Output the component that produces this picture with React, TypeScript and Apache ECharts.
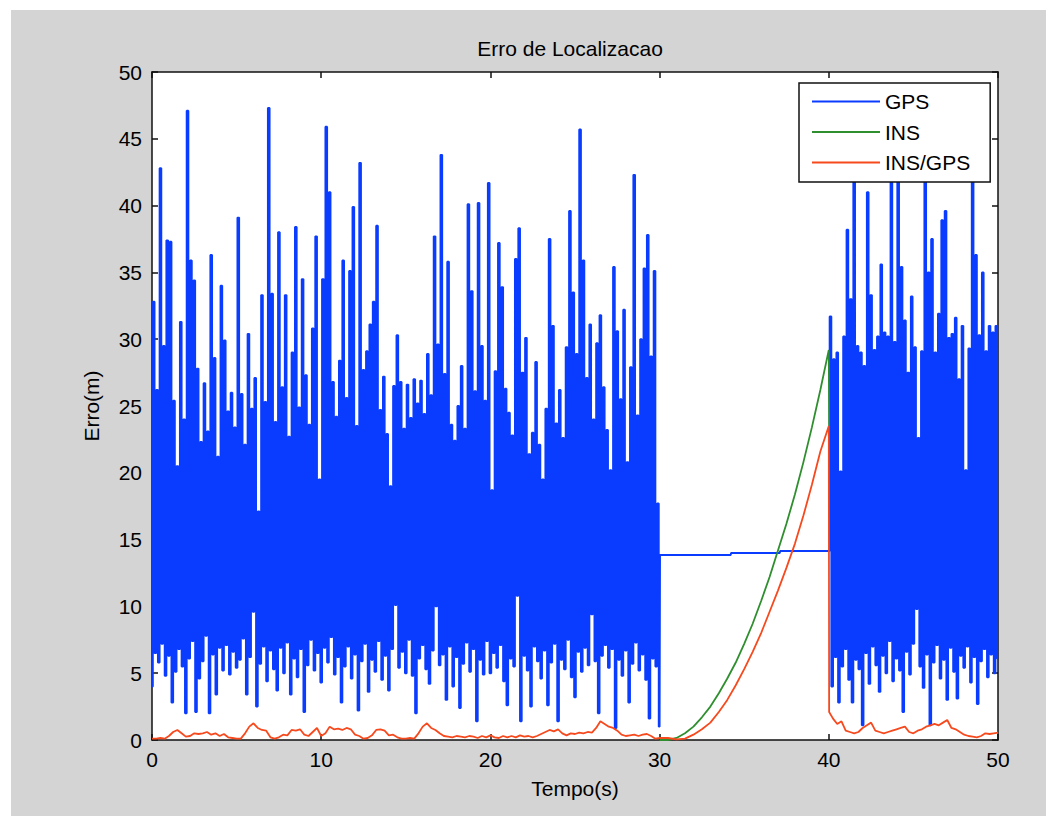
import { useEffect, useRef } from "react";
import * as echarts from "echarts";

// GPS error (m), sampled at 10 Hz from t = 0.0 s to t = 30.0 s (one row per second)
const gpsBefore = [
  4.0, 32.8, 6.5, 26.2, 5.8, 42.8, 7.2, 29.5, 4.8, 37.4,
  6.3, 37.3, 2.8, 25.4, 5.1, 20.5, 6.8, 31.3, 5.5, 24.0,
  2.0, 47.1, 6.1, 35.9, 7.4, 34.4, 2.1, 27.8, 4.6, 22.3,
  5.9, 26.7, 7.8, 23.1, 2.0, 36.3, 6.4, 28.6, 3.4, 21.2,
  6.9, 34.0, 5.2, 29.9, 7.1, 24.6, 4.9, 26.0, 6.6, 23.4,
  5.4, 39.1, 6.0, 25.9, 7.6, 22.1, 3.4, 30.4, 6.2, 24.8,
  9.6, 27.1, 2.5, 17.1, 5.7, 33.3, 7.0, 25.3, 4.4, 47.3,
  6.7, 33.4, 5.3, 23.8, 3.7, 38.0, 6.9, 26.4, 5.0, 33.3,
  7.3, 22.7, 3.4, 29.0, 6.1, 38.4, 4.7, 24.9, 6.8, 34.5,
  2.1, 27.3, 5.6, 23.6, 7.5, 30.8, 5.2, 37.7, 6.5, 19.5,
  4.3, 34.5, 6.9, 45.9, 5.8, 41.0, 7.7, 26.8, 4.9, 24.2,
  6.2, 28.4, 2.8, 35.9, 5.5, 25.6, 7.0, 35.1, 4.6, 39.9,
  6.4, 23.5, 2.2, 43.2, 5.9, 27.7, 7.2, 29.1, 3.6, 31.1,
  6.0, 32.8, 5.1, 38.5, 7.4, 24.7, 4.5, 27.2, 6.3, 22.9,
  3.7, 19.0, 6.8, 26.5, 10.1, 30.3, 5.4, 26.8, 6.6, 23.3,
  5.0, 26.6, 7.5, 24.1, 4.8, 27.0, 2.0, 25.2, 6.1, 26.9,
  7.1, 24.4, 5.3, 28.9, 4.2, 25.8, 6.7, 37.7, 10.0, 29.6,
  5.6, 43.8, 6.4, 27.4, 3.0, 35.8, 7.0, 23.6, 4.0, 22.4,
  6.2, 25.0, 2.4, 28.0, 5.7, 23.3, 7.3, 40.1, 5.1, 33.6,
  6.8, 26.1, 1.4, 40.2, 6.0, 29.5, 4.9, 25.4, 7.4, 41.7,
  5.0, 18.7, 6.5, 27.6, 5.4, 37.2, 7.1, 33.9, 4.4, 26.3,
  2.6, 24.5, 6.1, 22.8, 5.5, 36.0, 10.8, 38.3, 1.4, 27.5,
  6.3, 30.1, 5.2, 21.4, 2.5, 23.0, 7.0, 28.3, 5.9, 22.1,
  4.6, 19.5, 6.7, 24.8, 2.6, 37.5, 5.8, 31.0, 7.2, 23.7,
  1.4, 26.2, 6.0, 22.6, 5.3, 29.4, 7.5, 39.6, 4.7, 33.5,
  3.2, 28.9, 6.6, 45.7, 5.1, 35.9, 6.9, 27.1, 5.6, 31.1,
  9.4, 24.0, 5.9, 29.7, 2.0, 31.8, 6.3, 26.4, 7.1, 23.2,
  5.4, 20.2, 6.8, 35.4, 0.9, 30.6, 6.0, 25.5, 4.8, 32.2,
  6.7, 20.8, 2.8, 27.9, 5.7, 42.3, 7.3, 24.3, 5.2, 30.0,
  6.4, 35.3, 4.5, 37.8, 1.6, 28.7, 6.1, 35.1, 5.5, 17.7,
  1.0,
];

// GPS output held during the outage (30 s - 40 s)
const gpsHoldTimes = [30.05, 34.2, 34.25, 37.1, 37.15, 39.95];
const gpsHoldValues = [13.85, 13.85, 14.0, 14.0, 14.15, 14.15];

// GPS error (m), 10 Hz from t = 40.0 s to t = 50.0 s
const gpsAfter = [
  14.15, 31.7, 4.0, 28.5, 6.2, 29.0, 2.8, 20.1, 5.5, 30.2,
  6.8, 38.2, 4.5, 33.0, 2.8, 45.0, 6.0, 29.5, 5.3, 29.0,
  1.1, 28.0, 6.5, 41.0, 4.2, 33.3, 7.0, 29.2, 5.6, 30.2,
  3.6, 35.6, 6.3, 30.5, 5.0, 30.2, 7.4, 46.0, 4.4, 29.8,
  6.1, 44.5, 5.2, 35.4, 2.1, 31.4, 6.6, 27.5, 4.9, 33.2,
  7.2, 29.4, 9.8, 22.6, 5.5, 29.1, 3.9, 44.8, 6.4, 35.0,
  1.1, 37.5, 5.8, 29.0, 7.1, 31.9, 4.6, 38.9, 6.0, 39.6,
  3.0, 30.1, 6.9, 30.4, 5.1, 31.6, 3.1, 27.0, 6.3, 31.0,
  5.4, 20.2, 7.0, 29.3, 4.3, 45.5, 6.2, 36.3, 2.7, 30.3,
  5.9, 35.0, 6.8, 29.1, 4.7, 31.0, 6.4, 30.5, 5.0, 31.0,
  6.1,
];

// INS error (m) during the outage, every 0.5 s from 30 s to 40 s
const insOutage = [
  0, 0, 0.15, 0.5, 1.0, 1.7, 2.5, 3.5, 4.6, 5.8, 7.2,
  8.7, 10.4, 12.2, 14.2, 16.2, 18.4, 20.8, 23.4, 26.2, 29.2,
];
const insResetValue = 23.5;

// INS/GPS error (m), every 0.25 s from 0 s to 30 s
const insGpsBefore = [
  0.1, 0.1, 0.15, 0.1, 0.3, 0.6, 0.75, 0.5, 0.25, 0.3, 0.5, 0.45,
  0.5, 0.6, 0.4, 0.5, 0.3, 0.45, 0.2, 0.15, 0.1, 0.1, 0.5, 1.0,
  1.25, 0.9, 0.75, 0.7, 0.2, 0.1, 0.2, 0.4, 0.35, 0.75, 0.7, 0.8,
  0.4, 0.3, 0.6, 0.9, 0.3, 0.5, 1.0, 0.8, 0.85, 0.75, 0.9, 0.8,
  0.4, 0.3, 0.1, 0.15, 0.35, 0.75, 0.8, 0.7, 0.35, 0.4, 0.2, 0.1,
  0.1, 0.15, 0.1, 0.5, 1.0, 1.25, 0.9, 0.75, 0.5, 0.3, 0.25, 0.2,
  0.3, 0.25, 0.2, 0.3, 0.25, 0.15, 0.3, 0.2, 0.35, 0.2, 0.15, 0.3,
  0.2, 0.3, 0.2, 0.35, 0.25, 0.3, 0.2, 0.3, 0.45, 0.6, 0.75, 0.65,
  0.8, 0.5, 0.35, 0.5, 0.45, 0.55, 0.5, 0.6, 0.55, 0.9, 1.4, 1.2,
  1.0, 0.9, 0.7, 0.4, 0.3, 0.35, 0.4, 0.3, 0.4, 0.45, 0.3, 0.1,
  0.15,
];

// INS/GPS error (m) during the outage, every 0.5 s from 30.5 s to 40 s
const insGpsOutage = [
  0.15, 0.05, 0.1, 0.4, 0.8, 1.3, 2.1, 3.0, 4.1, 5.3,
  6.6, 8.0, 9.6, 11.2, 12.9, 14.7, 16.8, 19.1, 21.6, 23.5,
];
const insGpsResetValue = 2.1;

// INS/GPS error (m) after GPS returns, every 0.25 s from 40.25 s to 50 s
const insGpsAfter = [
  1.6, 1.2, 1.4, 0.7, 0.6, 0.5, 0.6, 0.9, 1.1, 1.3,
  0.7, 0.6, 0.5, 0.6, 0.7, 0.8, 0.9, 1.0, 0.6, 0.5,
  0.7, 0.8, 1.0, 1.1, 1.2, 1.1, 1.3, 1.5, 0.9, 0.8,
  0.6, 0.4, 0.3, 0.25, 0.2, 0.3, 0.5, 0.45, 0.5, 0.55,
];

const seriesNames = ["GPS", "INS", "INS/GPS"];
const seriesColors = ["#0a3cff", "#2f8f2f", "#f64a1e"];

const FONT = '"Liberation Sans", Arial, Helvetica, sans-serif';

const timed = (values: number[], start: number, step: number) =>
  values.map((v, i) => [+(start + i * step).toFixed(3), v]);

const gpsData = [
  ...timed(gpsBefore, 0, 0.1),
  ...gpsHoldTimes.map((t, i) => [t, gpsHoldValues[i]]),
  ...timed(gpsAfter, 40, 0.1),
];

const insData = [...timed(insOutage, 30, 0.5), [40.02, insResetValue]];

const insGpsData = [
  ...timed(insGpsBefore, 0, 0.25),
  ...timed(insGpsOutage, 30.5, 0.5),
  [40.02, insGpsResetValue],
  ...timed(insGpsAfter, 40.25, 0.25),
];

const frameLine = { color: "#111", width: 1.5 };

const axisBase = (extra: object) => ({
  type: "value",
  min: 0,
  max: 50,
  axisLine: { show: true, onZero: false, lineStyle: frameLine },
  axisTick: { show: true, inside: true, length: 6, lineStyle: frameLine },
  splitLine: { show: false },
  ...extra,
});

const labelStyle = { color: "#000", fontSize: 21, fontFamily: FONT };

export default function App() {
  const ref = useRef<HTMLDivElement>(null);

  useEffect(() => {
    if (!ref.current) return;
    const chart = echarts.init(ref.current, null, { renderer: "svg" });
    const lines = [
      { data: gpsData, width: 1.9, step: "middle" },
      { data: insData, width: 1.8, step: false },
      { data: insGpsData, width: 1.8, step: false },
    ];
    chart.setOption({
      animation: false,
      backgroundColor: "transparent",
      textStyle: { fontFamily: FONT },
      grid: {
        left: 152,
        right: 56,
        top: 72,
        bottom: 80,
        show: true,
        backgroundColor: "#ffffff",
        borderWidth: 0,
      },
      graphic: [
        {
          type: "text",
          x: 570,
          y: 48,
          style: {
            text: "Erro de Localizacao",
            fill: "#000",
            fontSize: 21,
            fontFamily: FONT,
            align: "center",
            verticalAlign: "middle",
          },
        },
      ],
      legend: {
        orient: "vertical",
        left: 799,
        top: 83,
        padding: [8, 20, 9, 13],
        icon: "rect",
        itemWidth: 68,
        itemHeight: 2,
        itemGap: 9.5,
        backgroundColor: "#ffffff",
        borderColor: "#111",
        borderWidth: 1.5,
        borderRadius: 0,
        selectedMode: false,
        textStyle: { ...labelStyle },
        data: seriesNames,
      },
      xAxis: [
        axisBase({
          position: "bottom",
          interval: 10,
          axisLabel: { ...labelStyle, margin: 9 },
          name: "Tempo(s)",
          nameLocation: "middle",
          nameGap: 38,
          nameTextStyle: { ...labelStyle },
        }),
        axisBase({
          position: "top",
          interval: 10,
          axisLabel: { show: false },
        }),
      ],
      yAxis: [
        axisBase({
          position: "left",
          interval: 5,
          axisLabel: { ...labelStyle, margin: 10 },
          name: "Erro(m)",
          nameLocation: "middle",
          nameGap: 50,
          nameTextStyle: { ...labelStyle },
        }),
        axisBase({
          position: "right",
          interval: 5,
          axisLabel: { show: false },
        }),
      ],
      series: lines.map((s, i) => ({
        name: seriesNames[i],
        type: "line",
        xAxisIndex: 0,
        yAxisIndex: 0,
        data: s.data,
        step: s.step,
        symbol: "none",
        showSymbol: false,
        silent: true,
        color: seriesColors[i],
        itemStyle: { color: seriesColors[i] },
        lineStyle: { color: seriesColors[i], width: s.width },
      })),
    });
    return () => chart.dispose();
  }, []);

  return (
    <div
      style={{
        position: "absolute",
        left: 0,
        top: 0,
        width: 1054,
        height: 820,
        background: "#ffffff",
      }}
    >
      <div
        style={{
          position: "absolute",
          left: 11,
          top: 10,
          width: 1035,
          height: 806,
          background: "#d4d4d4",
        }}
      />
      <div
        ref={ref}
        style={{ position: "absolute", left: 0, top: 0, width: 1054, height: 820 }}
      />
    </div>
  );
}
